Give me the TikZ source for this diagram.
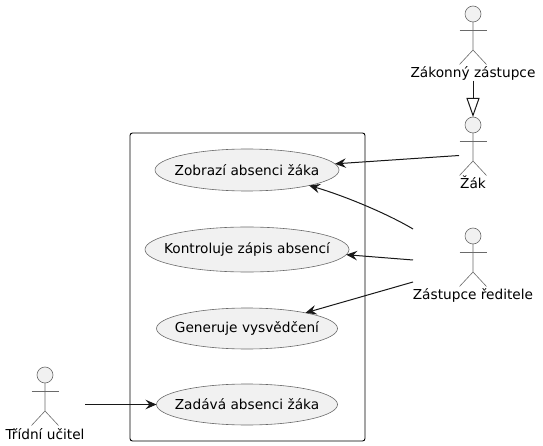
\documentclass[tikz,border=0pt]{standalone}
\usepackage{fontspec}
\setmainfont{DejaVu Sans}
\usetikzlibrary{positioning,arrows.meta,shapes.geometric}
\definecolor{usefill}{HTML}{F1F1F1}
\definecolor{useline}{HTML}{181818}
\definecolor{thinline}{HTML}{6A6A6A}
\newcommand{\actorfig}[3]{
	\node[actorhead] (#1) at (#2,#3) {};
	\draw[actorline] (#1.south) -- ++(0,28) -- ++(-13.5,14.5);
	\draw[actorline] (#1.south) ++(0,28) -- ++(13.5,14.5);
	\draw[actorline] (#1.south) ++(-13.5,8) -- ++(27,0);
}
\begin{document}
\begin{tikzpicture}[x=1pt,y=-1pt,node distance=36pt,
	usecase/.style={ellipse,draw=thinline,line width=0.6pt,fill=usefill,outer sep=0pt,inner xsep=-30pt,inner ysep=-6pt,minimum width=181pt,minimum height=41pt,font=\fontsize{13.7}{15}\selectfont},
	actorhead/.style={circle,draw=thinline,line width=0.6pt,fill=usefill,inner sep=0pt,outer sep=0pt,minimum size=16pt},
	actorline/.style={draw=thinline,line width=0.6pt},
	actorname/.style={anchor=base,inner sep=0pt,text height=10pt,text depth=3pt,font=\fontsize{13.7}{15}\selectfont},
	conn/.style={useline,line width=1pt,-{Stealth[length=11pt,width=9.5pt,inset=4pt]}}]
		\useasboundingbox (0,0) rectangle (543,446);
		\node[draw=black,line width=0.9pt,rounded corners=2.5pt,minimum width=235pt,minimum height=308pt,inner sep=0pt] (ramec) at (247.5,287) {};
		\node[usecase,minimum width=184pt,minimum height=42pt] (zobrazi) at (247,170) {Zobrazí absenci žáka};
		\node[usecase,minimum width=204pt,minimum height=45pt] (kontrola) [below = of zobrazi] {Kontroluje zápis absencí};
		\node[usecase] (generuje) [below = of kontrola] {Generuje vysvědčení};
		\node[usecase] (zadava) [below = 35pt of generuje] {Zadává absenci žáka};
		\actorfig{zakonny}{473}{14}
		\actorfig{zak}{473}{125}
		\actorfig{zastupce}{473}{236}
		\actorfig{ucitel}{45}{375}
		\node[actorname] (zakonnyname) at (473,77.5) {Zákonný zástupce};
		\node[actorname] (zakname) at (473,188.5) {Žák};
		\node[actorname] (zastupcename) at (473,299) {Zástupce ředitele};
		\node[actorname] (ucitelname) at (45,439) {Třídní učitel};
		\coordinate (zakout) at (459,155.5);
		\coordinate (zastupceA) at (413,229);
		\coordinate (zastupceB) at (413,260);
		\coordinate (zastupceC) at (413,282);
		\coordinate (ucitelout) at (85,404.5);
		\draw[useline,line width=1pt,-{Triangle[open,length=19pt,width=13pt]}] (zakonnyname.south) -- (zak.north);
		\draw[conn] (zakout) -- (zobrazi.4.5);
		\draw[conn] (zastupceA) .. controls (388,214) and (345,196) .. (zobrazi.-14);
		\draw[conn] (zastupceB) -- (kontrola.-3.7);
		\draw[conn] (zastupceC) -- (generuje.15);
		\draw[conn] (ucitelout) -- (zadava.west);
	\end{tikzpicture}
\end{document}
